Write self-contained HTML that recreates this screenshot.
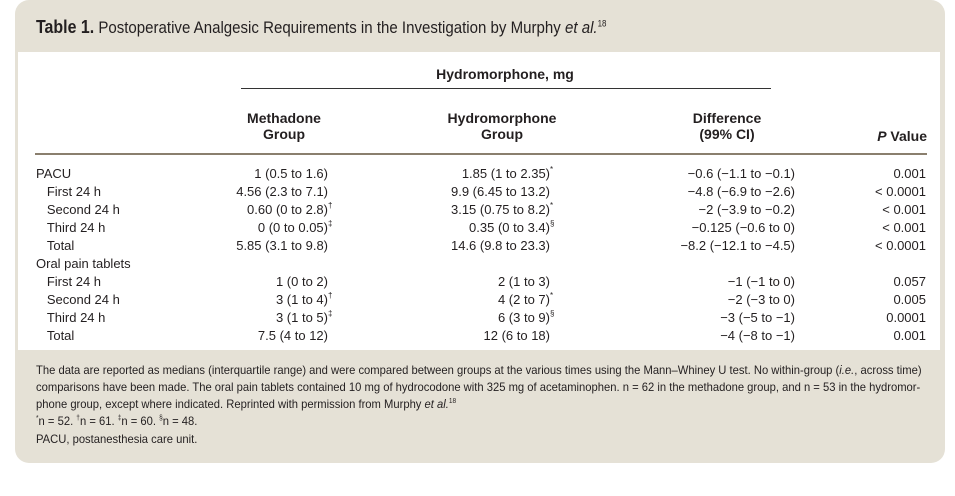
<!DOCTYPE html>
<html><head><meta charset="utf-8"><style>
*{margin:0;padding:0;box-sizing:border-box}
body{width:955px;height:496px;background:#fff;font-family:"Liberation Sans Narrow","Liberation Sans",sans-serif;color:#231f20;position:relative;overflow:hidden}
.box{position:absolute;left:15px;top:0;width:930px;height:463px;background:#e5e1d6;border-radius:14px}
.title{position:absolute;left:36px;top:17px;font-size:17px;white-space:nowrap;transform:scaleX(0.885);transform-origin:left top}
.title b{font-size:18px}
.white{position:absolute;left:18px;top:52px;width:922px;height:298px;background:#fff}
.t{position:absolute;font-size:13px;white-space:nowrap;line-height:16px}
.h{font-weight:bold;font-size:14px;text-align:center}
.r{text-align:right}
.z{display:inline-block;width:0;font-size:8px;vertical-align:top;line-height:10px}
.line{position:absolute;height:2px;background:#8a7f6e}
.foot{position:absolute;left:36px;font-size:12px;line-height:17px;white-space:nowrap;transform:scaleX(0.935);transform-origin:left top}
sup{line-height:0}
</style></head><body>
<div class="box"></div>
<div class="title"><b>Table 1.</b> Postoperative Analgesic Requirements in the Investigation by Murphy <i>et al.</i><sup style="font-size:9px">18</sup></div>
<div class="white"></div>
<div class="t h" style="left:400px;top:66px;width:210px">Hydromorphone, mg</div>
<div class="line" style="left:241px;top:88px;width:530px;height:1px;background:#333"></div>
<div class="t h" style="left:214px;top:110px;width:140px">Methadone<br>Group</div>
<div class="t h" style="left:432px;top:110px;width:140px">Hydromorphone<br>Group</div>
<div class="t h" style="left:657px;top:110px;width:140px">Difference<br>(99% CI)</div>
<div class="t h r" style="left:850px;top:128px;width:77px"><i>P</i> Value</div>
<div class="line" style="left:35px;top:153px;width:892px"></div>

<div class="t" style="left:36px;top:165px;line-height:18px">PACU<br>&nbsp;&nbsp;&nbsp;First 24 h<br>&nbsp;&nbsp;&nbsp;Second 24 h<br>&nbsp;&nbsp;&nbsp;Third 24 h<br>&nbsp;&nbsp;&nbsp;Total<br>Oral pain tablets<br>&nbsp;&nbsp;&nbsp;First 24 h<br>&nbsp;&nbsp;&nbsp;Second 24 h<br>&nbsp;&nbsp;&nbsp;Third 24 h<br>&nbsp;&nbsp;&nbsp;Total</div>

<div class="t r" style="left:200px;top:165px;width:128px;line-height:18px">1 (0.5 to 1.6)<br>4.56 (2.3 to 7.1)<br>0.60 (0 to 2.8)<span class="z">†</span><br>0 (0 to 0.05)<span class="z">‡</span><br>5.85 (3.1 to 9.8)<br>&nbsp;<br>1 (0 to 2)<br>3 (1 to 4)<span class="z">†</span><br>3 (1 to 5)<span class="z">‡</span><br>7.5 (4 to 12)</div>

<div class="t r" style="left:420px;top:165px;width:130px;line-height:18px">1.85 (1 to 2.35)<span class="z">*</span><br>9.9 (6.45 to 13.2)<br>3.15 (0.75 to 8.2)<span class="z">*</span><br>0.35 (0 to 3.4)<span class="z">§</span><br>14.6 (9.8 to 23.3)<br>&nbsp;<br>2 (1 to 3)<br>4 (2 to 7)<span class="z">*</span><br>6 (3 to 9)<span class="z">§</span><br>12 (6 to 18)</div>

<div class="t r" style="left:640px;top:165px;width:155px;line-height:18px">−0.6 (−1.1 to −0.1)<br>−4.8 (−6.9 to −2.6)<br>−2 (−3.9 to −0.2)<br>−0.125 (−0.6 to 0)<br>−8.2 (−12.1 to −4.5)<br>&nbsp;<br>−1 (−1 to 0)<br>−2 (−3 to 0)<br>−3 (−5 to −1)<br>−4 (−8 to −1)</div>

<div class="t r" style="left:840px;top:165px;width:86px;line-height:18px">0.001<br>&lt; 0.0001<br>&lt; 0.001<br>&lt; 0.001<br>&lt; 0.0001<br>&nbsp;<br>0.057<br>0.005<br>0.0001<br>0.001</div>

<div class="foot" style="top:362px">The data are reported as medians (interquartile range) and were compared between groups at the various times using the Mann–Whiney U test. No within-group (<i>i.e.</i>, across time)<br>comparisons have been made. The oral pain tablets contained 10 mg of hydrocodone with 325 mg of acetaminophen. n = 62 in the methadone group, and n = 53 in the hydromor-<br>phone group, except where indicated. Reprinted with permission from Murphy <i>et al.</i><sup style="font-size:7px">18</sup></div>
<div class="foot" style="top:413px"><sup style="font-size:7px">*</sup>n = 52. <sup style="font-size:7px">†</sup>n = 61. <sup style="font-size:7px">‡</sup>n = 60. <sup style="font-size:7px">§</sup>n = 48.</div>
<div class="foot" style="top:431px">PACU, postanesthesia care unit.</div>
</body></html>
